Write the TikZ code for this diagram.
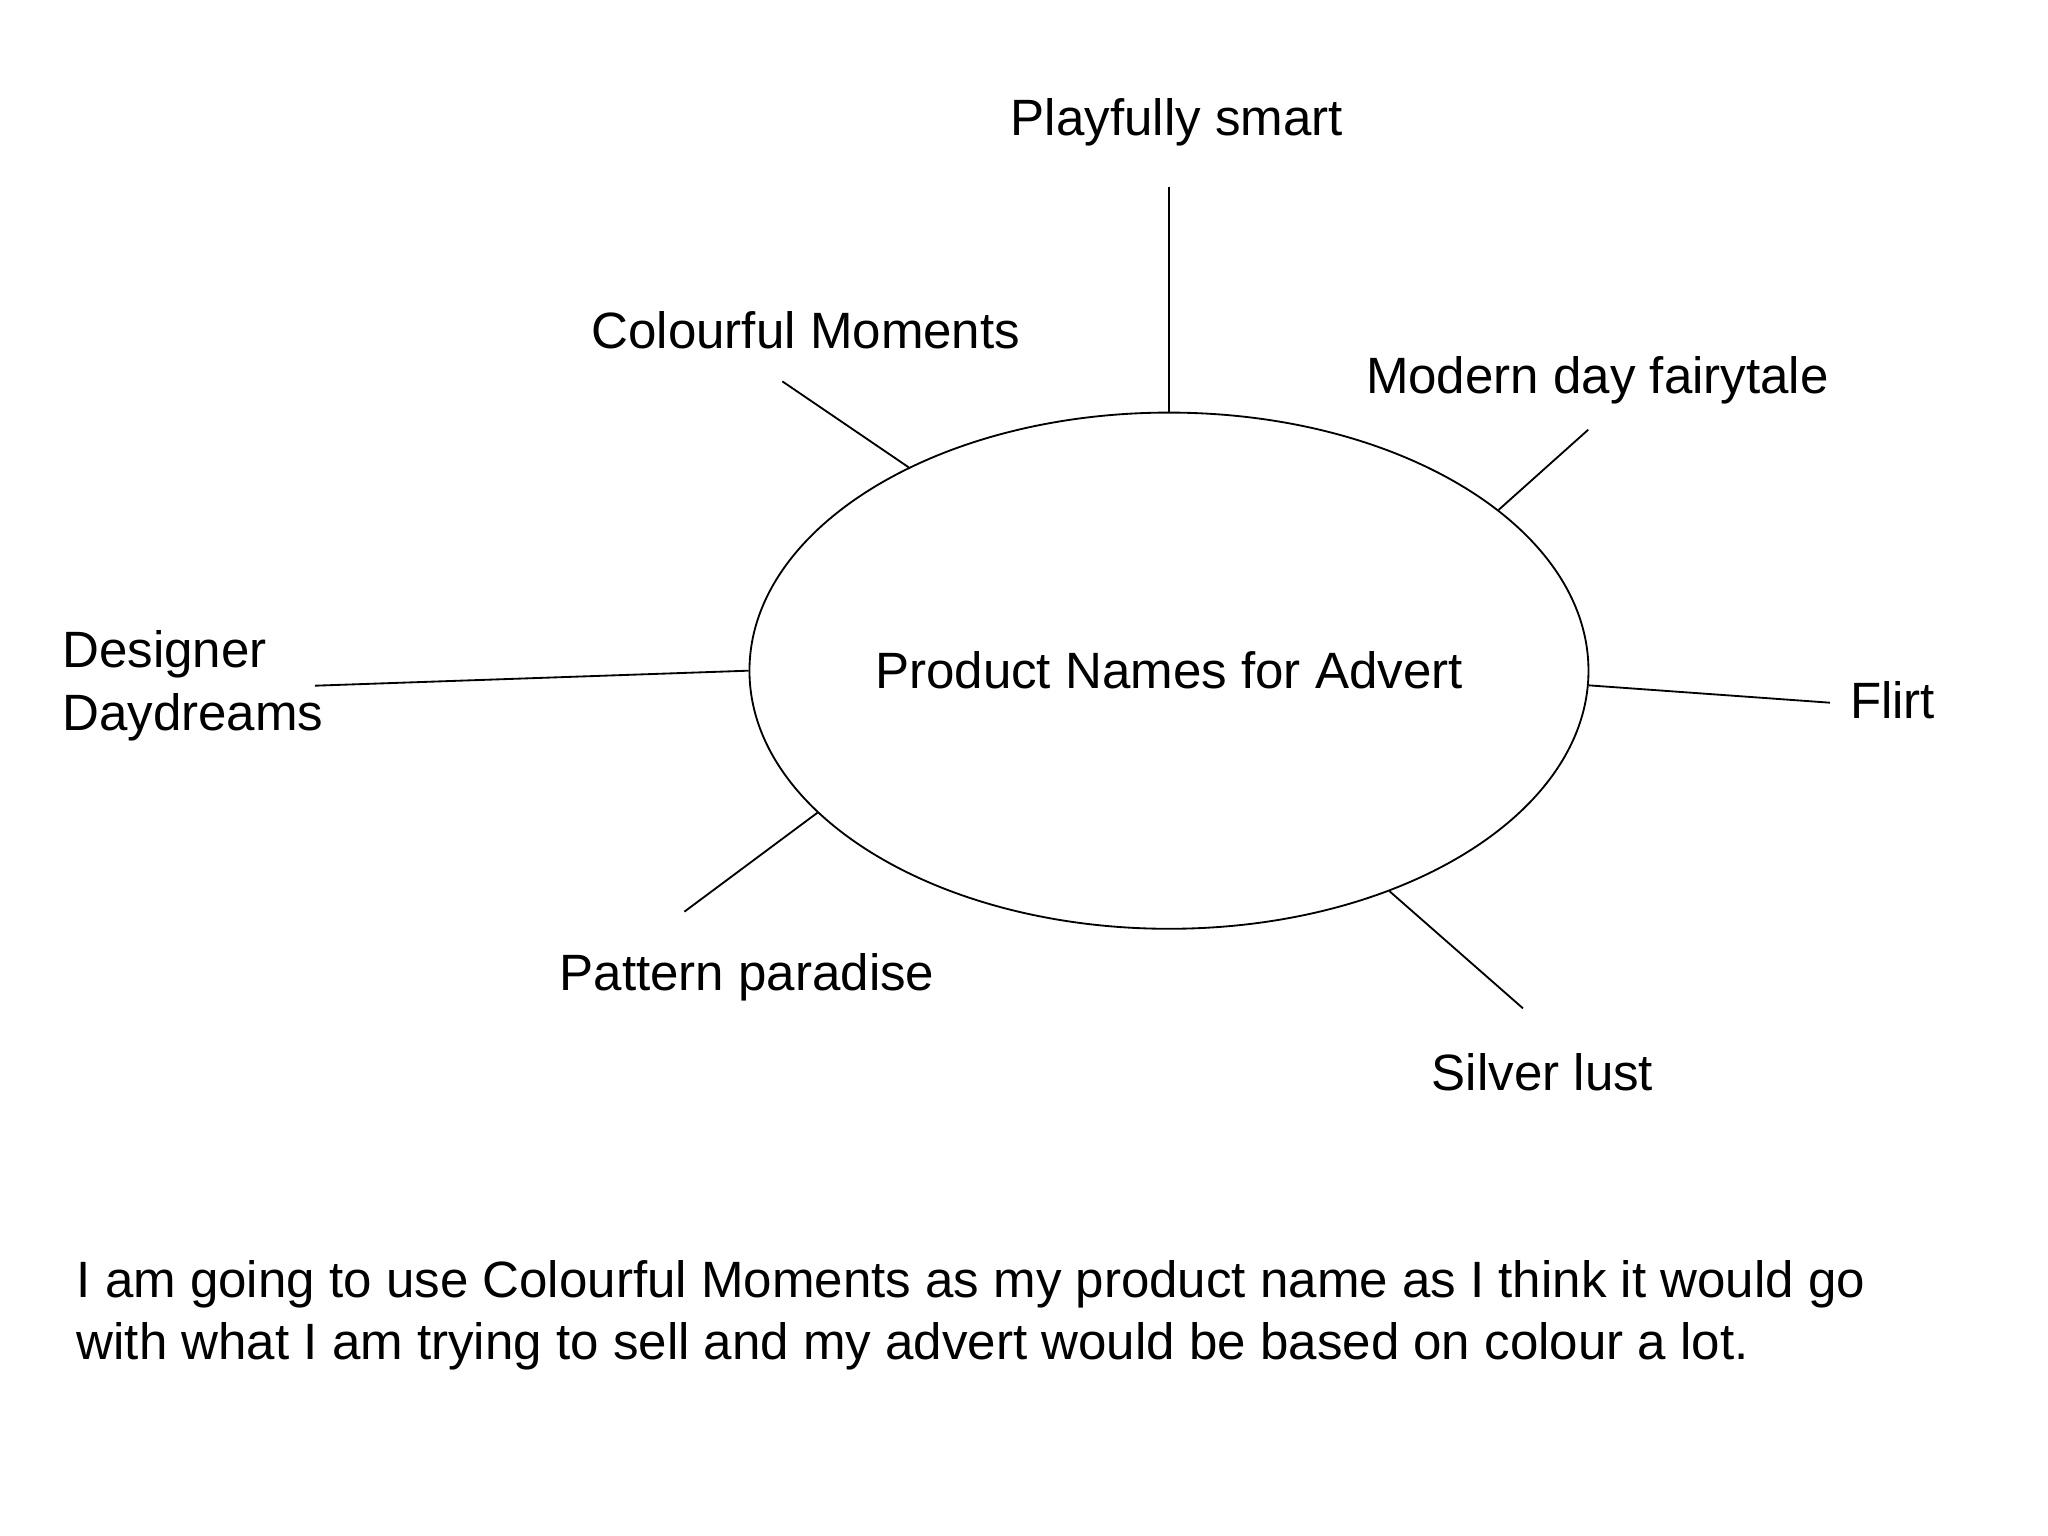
\documentclass[tikz,border=0pt]{standalone}
\usepackage{fontspec}
\setmainfont{Liberation Sans}
\usetikzlibrary{shapes.geometric}

\tikzset{
  namebox/.style={inner sep=0pt, font=\fontsize{11.12}{13.6}\selectfont},
  spoke/.style={draw=black, line width=0.4pt}
}

\begin{document}
\begin{tikzpicture}[x=0.01cm,y=-0.01cm]
\useasboundingbox (0,0) rectangle (1568,1176);
% the central ellipse
\node[draw, ellipse, namebox, minimum width=6.42cm, minimum height=3.95cm] (centre) at (895,513.5) {Product Names for Advert};
% the names round it
\node[namebox] (playful) at (901,94) {Playfully smart};
\node[namebox] (colourful) at (617,253) {Colourful Moments};
\node[namebox] (modern) at (1223,291) {Modern day fairytale};
\node[namebox, anchor=west, align=left] (designer) at (47,525) {Designer\\Daydreams};
\node[namebox] (flirt) at (1449,536) {Flirt};
\node[namebox] (pattern) at (572,748) {Pattern paradise};
\node[namebox] (silver) at (1181,821) {Silver lust};
% free ends of the spokes
\coordinate (playful-end) at (895,143);
\coordinate (colourful-end) at (599,292);
\coordinate (modern-end) at (1216,329);
\coordinate (designer-end) at (241,525);
\coordinate (flirt-end) at (1401,538);
\coordinate (pattern-end) at (524,698);
\coordinate (silver-end) at (1166,772);
\foreach \Angle/\End in {90/playful-end,142/colourful-end,26.7/modern-end,180/designer-end,-2.2/flirt-end,202.3/pattern-end,-45.8/silver-end}{
    \draw[spoke] (centre.\Angle) -- (\End);
}
% the choice
\node[namebox, anchor=west, align=left] (remark) at (58,1007) {I am going to use Colourful Moments as my product name as I think it would go\\with what I am trying to sell and my advert would be based on colour a lot.};
\end{tikzpicture}
\end{document}
